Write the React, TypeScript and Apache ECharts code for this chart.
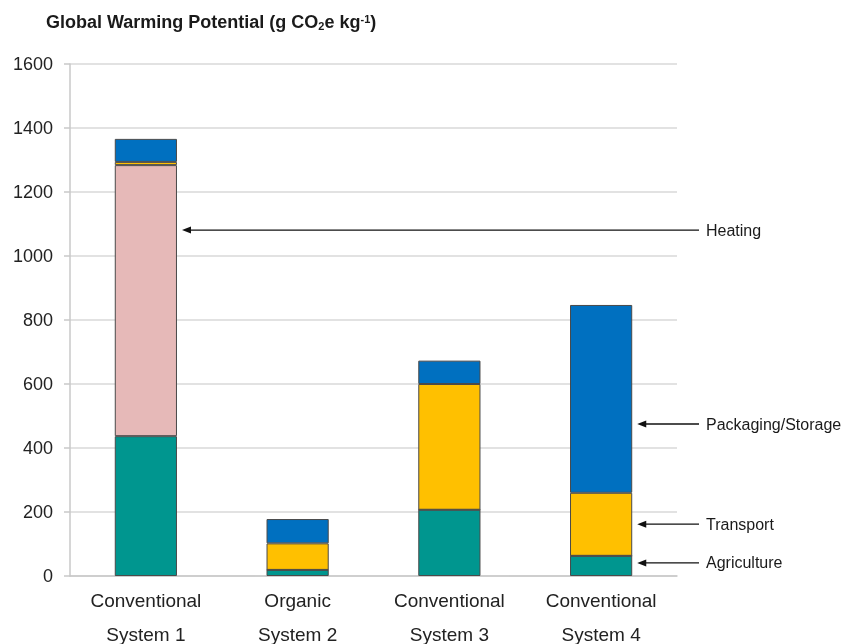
import React, { useEffect, useRef } from "react";
import * as echarts from "echarts";

const categories = ["Conventional\nSystem 1", "Organic\nSystem 2", "Conventional\nSystem 3", "Conventional\nSystem 4"];
const agriculture = [437, 19, 207, 63];
const heating = [847, 0, 0, 0];
const transport = [10, 83, 393, 197];
const packaging = [72, 76, 73, 587];

const annotationLabels = ["Heating", "Packaging/Storage", "Transport", "Agriculture"];
const annotationCategory = [0, 3, 3, 3];
const annotationValue = [1081, 475, 162, 41];

const yTicks = [0, 200, 400, 600, 800, 1000, 1200, 1400, 1600];

export default function App() {
  const ref = useRef<HTMLDivElement>(null);
  useEffect(() => {
    if (!ref.current) return;
    const chart = echarts.init(ref.current, null, { renderer: "svg" });
    const font = "Liberation Sans, Arial, sans-serif";
    const border = { borderColor: "#4a4a4a", borderWidth: 1 };
    const mk = (name: string, data: number[], color: string) => ({
      name,
      type: "bar",
      stack: "total",
      data,
      barWidth: "41%",
      itemStyle: { color, ...border },
    });
    chart.setOption({
      animation: false,
      title: {
        left: 41,
        top: 8,
        text: "{t|Global Warming Potential (g CO}{sub|2}{t|e kg}{sup|-1}{t|)}",
        textStyle: {
          rich: {
            t: { fontFamily: font, fontWeight: "bold", fontSize: 18, color: "#1a1a1a" },
            sub: { fontFamily: font, fontWeight: "bold", fontSize: 11, color: "#1a1a1a", verticalAlign: "bottom", padding: [7, 0, 0, 0] },
            sup: { fontFamily: font, fontWeight: "bold", fontSize: 11, color: "#1a1a1a", verticalAlign: "top", padding: [0, 0, 7, 0] },
          },
        },
      },
      grid: { left: 70, right: 166, top: 64, height: 512, containLabel: false, outerBoundsMode: "none" },
      xAxis: {
        type: "category",
        data: categories,
        axisLine: { lineStyle: { color: "#c8c8c8", width: 1.5 } },
        axisTick: { show: false },
        axisLabel: {
          fontFamily: font,
          fontSize: 19,
          color: "#222",
          lineHeight: 34,
          margin: 7,
        },
      },
      yAxis: {
        type: "value",
        min: 0,
        max: 1600,
        interval: 200,
        axisLine: { show: true, lineStyle: { color: "#c8c8c8", width: 1.5 } },
        axisTick: { show: true, length: 6, lineStyle: { color: "#c8c8c8", width: 1.5 } },
        splitLine: { lineStyle: { color: "#d9d9d9", width: 1.5 } },
        axisLabel: {
          fontFamily: font,
          fontSize: 18,
          color: "#222",
          margin: 17,
          formatter: (v: number) => (yTicks.includes(v) ? String(v) : ""),
        },
      },
      series: [
        mk("Agriculture", agriculture, "#00968f"),
        mk("Heating", heating, "#e6b9b8"),
        mk("Transport", transport, "#ffc000"),
        mk("Packaging/Storage", packaging, "#0070c0"),
      ],
    });

    const elements: any[] = [];
    const labelX = 706;
    const lineEnd = 699;
    annotationLabels.forEach((label, i) => {
      const c = annotationCategory[i];
      const center = chart.convertToPixel({ gridIndex: 0 }, [c, annotationValue[i]]) as number[];
      const gridW = 843 - 70 - 166;
      const band = gridW / categories.length;
      const tipX = center[0] + (band * 0.41) / 2 + 5;
      const y = center[1];
      elements.push({
        type: "line",
        shape: { x1: tipX + 7, y1: y, x2: lineEnd, y2: y },
        style: { stroke: "#111", lineWidth: 1.3 },
      });
      elements.push({
        type: "polygon",
        shape: { points: [[tipX, y], [tipX + 9, y - 3.5], [tipX + 9, y + 3.5]] },
        style: { fill: "#111" },
      });
      elements.push({
        type: "text",
        x: labelX,
        y,
        style: {
          text: label,
          fontFamily: font,
          fontSize: 16,
          fill: "#1a1a1a",
          verticalAlign: "middle",
          align: "left",
        },
      });
    });
    chart.setOption({ graphic: { elements } });
    return () => chart.dispose();
  }, []);
  return (
    <div style={{ position: "fixed", left: 0, top: 0, width: 843, height: 644, overflow: "hidden" }}>
      <div ref={ref} style={{ width: 843, height: 644, overflow: "hidden" }} />
    </div>
  );
}
